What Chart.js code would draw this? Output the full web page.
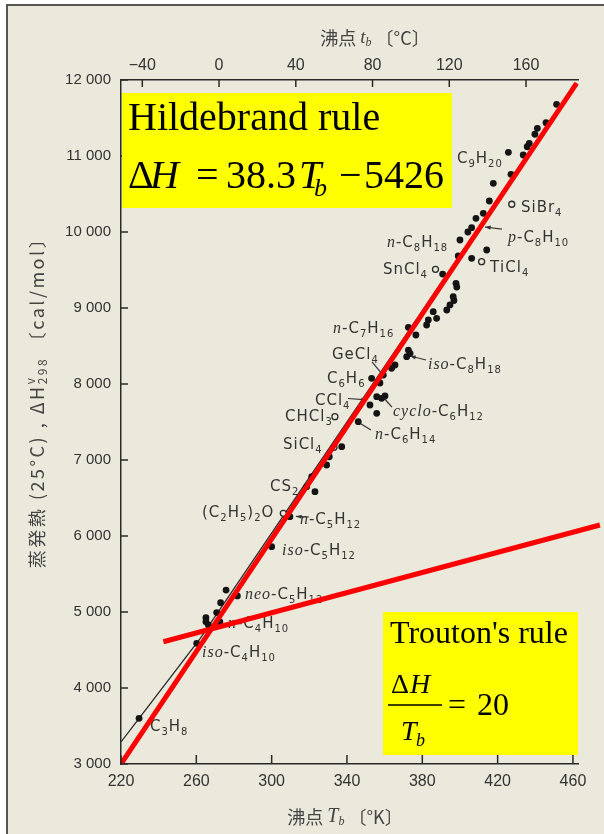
<!DOCTYPE html>
<html>
<head>
<meta charset="utf-8">
<script src="https://cdn.jsdelivr.net/npm/chart.js@4.4.0/dist/chart.umd.min.js"></script>
<style>
  html, body { margin: 0; padding: 0; background: #fff; }
  #wrap { position: relative; width: 604px; height: 834px; overflow: hidden; }
  #paper { position: absolute; left: 6px; top: 4px; right: 0; bottom: 0; background: #ebe8dc;
           border-top: 2px solid #555; border-left: 2px solid #555; }
  #chart { position: absolute; left: 0; top: 0; }
</style>
</head>
<body>
<div id="wrap">
  <div id="paper"></div>
  <canvas id="chart" width="604" height="834"></canvas>
</div>
<script>
// tick values
const K_TICKS = [220, 260, 300, 340, 380, 420, 460];
const C_TICKS = [-40, 0, 40, 80, 120, 160];
const H_TICKS = [3000, 4000, 5000, 6000, 7000, 8000, 9000, 10000, 11000, 12000];

// measured compounds (filled dots): boiling point [K], heat of vaporization [cal/mol]
const tbDots = [451.3, 445.7, 441.1, 439.8, 436.8, 435.7, 425.7, 433.6, 427.1, 417.7,
                415.6, 412.4, 408.5, 406.2, 404.2, 400.0, 414.2, 399.1, 406.2, 390.8,
                397.9, 398.3, 396.4, 396.8, 394.7, 393.0, 385.8, 387.6, 383.2, 382.3,
                372.6, 376.6, 372.6, 373.5, 371.7, 365.5, 363.7, 359.3, 353.1, 357.5,
                360.2, 355.8, 358.4, 352.2, 355.8, 346.0, 337.2, 330.6, 329.2, 321.3,
                318.6, 323.0, 309.7, 300.0, 275.8, 281.8, 272.9, 270.8, 265.1, 265.1,
                266.4, 260.2, 229.6, 272.5];
const dhDots = [11680, 11438, 11364, 11286, 11167, 11122, 11049, 11013, 10759, 10641,
                10408, 10246, 10180, 10057, 10000, 9895, 9763, 9684, 9654, 9447,
                9325, 9276, 9149, 9099, 9040, 8974, 8951, 8864, 8842, 8776,
                8746, 8645, 8447, 8404, 8359, 8250, 8207, 8118, 8075, 8013,
                7842, 7833, 7812, 7724, 7614, 7504, 7175, 7043, 6934, 6780,
                6649, 6583, 6254, 5859, 5289, 5211, 5122, 4993, 4925, 4872,
                4829, 4588, 3601, 4870];

// open circles: SiBr4, TiCl4, SnCl4, CHCl3, SiCl4, (C2H5)2O
const tbOpen = [427.5, 411.5, 387.0, 333.6, 333.1, 306.2];
const dhOpen = [10365, 9609, 9509, 7570, 7167, 6299];

// original black fitted curve
const curveTb = [220, 229.6, 262, 462];
const curveDh = [3290, 3600, 4650, 11960];

// red overlay lines as drawn
const hildTb = [220, 462];
const hildDh = [3000, 11960];
const troutTb = [242.5, 474.3];
const troutDh = [4609, 6145];

// compound labels: left edge / vertical centre in data units
const labelText = ["C9H20", "SiBr4", "n-C8H18", "p-C8H10", "SnCl4", "TiCl4", "n-C7H16", "GeCl4",
                   "iso-C8H18", "C6H6", "CCl4", "cyclo-C6H12", "CHCl3", "n-C6H14", "SiCl4", "CS2",
                   "(C2H5)2O", "n-C5H12", "iso-C5H12", "neo-C5H12", "n-C4H10", "iso-C4H10", "C3H8"];
const labelTb = [398.4, 432.4, 361.2, 425.5, 359.1, 415.9, 332.6, 332.0,
                 383.0, 329.4, 323.0, 364.4, 307.1, 354.9, 306.0, 299.1,
                 263.0, 315.0, 305.5, 285.8, 276.8, 263.0, 235.4];
const labelDh = [10974, 10342, 9875, 9947, 9520, 9540, 8750, 8395,
                 8270, 8086, 7790, 7651, 7592, 7355, 7217, 6671,
                 6322, 6230, 5816, 5243, 4862, 4480, 3513];

// leader lines [tb1, dh1, tb2, dh2, arrowhead]
const leaders = [
  [422.3, 10039, 413.3, 10066, true],
  [353.3, 8290, 358.6, 8132, false],
  [382.0, 8316, 373.5, 8368, true],
  [340.5, 7809, 350.6, 7790, true],
  [363.9, 7697, 359.1, 7829, false],
  [352.7, 7395, 345.8, 7500, false],
  [319.8, 6250, 312.9, 6257, true]
];

const INK = "#2a2a2a";
const TXT = "#333";
const SANS = '15px "DejaVu Sans"';
const SUB = '10px "DejaVu Sans"';
const ITAL = 'italic 16px "Liberation Serif"';
const SERIF = '"Liberation Serif"';
const CJK = '"Noto Sans CJK JP"';

function spaced(v) { return String(v).replace(/\B(?=(\d{3})+(?!\d))/g, " "); }

function drawPieces(ctx, pieces, x, y) {
  let cx = x;
  pieces.forEach((p) => {
    ctx.font = p.font;
    ctx.fillText(p.t, cx, y + (p.dy || 0));
    if (!p.stay) cx += ctx.measureText(p.t).width;
  });
  return cx - x;
}
function piecesWidth(ctx, pieces) {
  let w = 0;
  pieces.forEach((p) => { ctx.font = p.font; if (!p.stay) w += ctx.measureText(p.t).width; });
  return w;
}

function formulaPieces(name) {
  const out = [];
  let rest = name;
  const m = name.match(/^(n|iso|cyclo|neo|p)-(.*)$/);
  if (m) {
    out.push({ t: m[1], font: ITAL });
    out.push({ t: "-", font: SANS });
    rest = m[2];
  }
  for (const ch of rest) {
    if (/\d/.test(ch)) out.push({ t: ch, font: SUB, dy: 4 });
    else out.push({ t: ch, font: SANS });
  }
  return out;
}

const labelPlugin = {
  id: "labels",
  beforeDatasetsDraw(chart) {
    const { ctx, scales: { x, y } } = chart;
    ctx.save();
    ctx.fillStyle = TXT;
    ctx.textBaseline = "alphabetic";
    ctx.letterSpacing = "1px";
    labelText.forEach((t, i) => {
      drawPieces(ctx, formulaPieces(t), x.getPixelForValue(labelTb[i]), y.getPixelForValue(labelDh[i]) + 5.5);
    });
    ctx.letterSpacing = "0px";
    ctx.strokeStyle = TXT;
    ctx.lineWidth = 1.2;
    leaders.forEach(([t1, h1, t2, h2, arrow]) => {
      const x1 = x.getPixelForValue(t1), y1 = y.getPixelForValue(h1);
      const x2 = x.getPixelForValue(t2), y2 = y.getPixelForValue(h2);
      ctx.beginPath(); ctx.moveTo(x1, y1); ctx.lineTo(x2, y2); ctx.stroke();
      if (arrow) {
        const a = Math.atan2(y2 - y1, x2 - x1);
        ctx.beginPath();
        ctx.moveTo(x2, y2);
        ctx.lineTo(x2 - 6 * Math.cos(a - 0.35), y2 - 6 * Math.sin(a - 0.35));
        ctx.lineTo(x2 - 6 * Math.cos(a + 0.35), y2 - 6 * Math.sin(a + 0.35));
        ctx.closePath(); ctx.fill();
      }
    });
    ctx.restore();
  }
};

const decorPlugin = {
  id: "decor",
  afterDraw(chart) {
    const { ctx, scales: { x, xTop, y } } = chart;
    ctx.save();
    // inward tick marks
    ctx.strokeStyle = INK;
    ctx.lineWidth = 1.5;
    ctx.beginPath();
    K_TICKS.forEach((v) => { const p = x.getPixelForValue(v); ctx.moveTo(p, x.top); ctx.lineTo(p, x.top - 9); });
    C_TICKS.forEach((v) => { const p = xTop.getPixelForValue(v); ctx.moveTo(p, xTop.bottom); ctx.lineTo(p, xTop.bottom + 7); });
    H_TICKS.forEach((v) => { const p = y.getPixelForValue(v); ctx.moveTo(y.right, p); ctx.lineTo(y.right + 7, p); });
    ctx.stroke();

    // axis titles
    ctx.fillStyle = "#444";
    ctx.textBaseline = "middle";
    const topT = [
      { t: "沸点 ", font: "18px " + CJK },
      { t: "t", font: "italic 19px " + SERIF },
      { t: "b", font: "italic 12px " + SERIF, dy: 5 },
      { t: " 〔°C〕", font: "18px " + CJK }
    ];
    drawPieces(ctx, topT, 375 - piecesWidth(ctx, topT) / 2, 38);
    const botT = [
      { t: "沸点 ", font: "18px " + CJK },
      { t: "T", font: "italic 20px " + SERIF },
      { t: "b", font: "italic 12px " + SERIF, dy: 5 },
      { t: " 〔°K〕", font: "18px " + CJK }
    ];
    drawPieces(ctx, botT, 345 - piecesWidth(ctx, botT) / 2, 817);

    const yT = [
      { t: "蒸発熱 (25°C) , ", font: "18px " + CJK },
      { t: "ΔH", font: "18px " + CJK },
      { t: "v", font: "12px " + CJK, dy: -7, stay: true },
      { t: "298", font: "12px " + CJK, dy: 5 },
      { t: " 〔cal/mol〕", font: "18px " + CJK }
    ];
    ctx.save();
    ctx.translate(37, 398);
    ctx.rotate(-Math.PI / 2);
    ctx.letterSpacing = "2.5px";
    drawPieces(ctx, yT, -piecesWidth(ctx, yT) / 2, 0);
    ctx.restore();

    // yellow annotation boxes
    ctx.textBaseline = "alphabetic";
    ctx.fillStyle = "#ffff00";
    ctx.fillRect(122, 93, 330, 115);
    ctx.fillRect(383, 612, 195, 143);
    ctx.fillStyle = "#000";
    ctx.font = "40px " + SERIF;
    ctx.fillText("Hildebrand rule", 128, 130);
    const eq = [
      ["Δ", "40px", 128, 0], ["H", "italic 40px", 150, 0], ["=", "40px", 196, 0],
      ["38.3", "40px", 226, 0], ["T", "italic 40px", 299, 0], ["b", "italic 26px", 314, 8],
      ["−", "40px", 339, 0], ["5426", "40px", 364, 0]
    ];
    eq.forEach(([t, f, px, dy]) => { ctx.font = f + " " + SERIF; ctx.fillText(t, px, 188 + dy); });

    ctx.font = "32px " + SERIF;
    ctx.fillText("Trouton's rule", 390, 643);
    const fr = [
      ["Δ", "28px", 391, 693], ["H", "italic 28px", 410, 693],
      ["T", "italic 28px", 401, 740], ["b", "italic 18px", 416, 746],
      ["=", "32px", 448, 715], ["20", "32px", 477, 715]
    ];
    fr.forEach(([t, f, px, py]) => { ctx.font = f + " " + SERIF; ctx.fillText(t, px, py); });
    ctx.strokeStyle = "#000";
    ctx.lineWidth = 1.5;
    ctx.beginPath(); ctx.moveTo(388, 705); ctx.lineTo(442, 705); ctx.stroke();
    ctx.restore();
  }
};

const toXY = (xs, ys) => xs.map((v, i) => ({ x: v, y: ys[i] }));

const tickFont = { family: "Liberation Sans", size: 15 };

new Chart(document.getElementById("chart"), {
  type: "scatter",
  data: {
    datasets: [
      { data: toXY(hildTb, hildDh), showLine: true, borderColor: "#ff0000", borderWidth: 5,
        pointRadius: 0, order: 0 },
      { data: toXY(troutTb, troutDh), showLine: true, borderColor: "#ff0000", borderWidth: 5,
        pointRadius: 0, clip: false, order: 0 },
      { data: toXY(tbDots, dhDots), pointRadius: 3.4, pointBackgroundColor: "#141414",
        pointBorderWidth: 0, order: 1 },
      { data: toXY(tbOpen, dhOpen), pointRadius: 3, pointBackgroundColor: "#ebe8dc",
        pointBorderColor: INK, pointBorderWidth: 1.3, order: 1 },
      { data: toXY(curveTb, curveDh), showLine: true, borderColor: INK, borderWidth: 1.3,
        pointRadius: 0, order: 2 }
    ]
  },
  options: {
    responsive: false,
    animation: false,
    devicePixelRatio: 1,
    layout: { autoPadding: false, padding: { left: 0, top: 0, right: 25.4, bottom: 0 } },
    plugins: { legend: { display: false }, tooltip: { enabled: false } },
    scales: {
      x: {
        type: "linear", position: "bottom", min: 220, max: 463,
        afterBuildTicks: (s) => { s.ticks = K_TICKS.map((v) => ({ value: v })); },
        afterFit: (s) => { s.height = 70; },
        grid: { display: false, drawTicks: false },
        border: { color: INK, width: 1.5 },
        ticks: { color: TXT, font: { family: "Liberation Sans", size: 16 }, padding: 8,
                 maxRotation: 0, autoSkip: false }
      },
      xTop: {
        type: "linear", position: "top", min: -51.1, max: 187.4,
        afterBuildTicks: (s) => { s.ticks = C_TICKS.map((v) => ({ value: v })); },
        afterFit: (s) => { s.height = 80; },
        grid: { display: false, drawTicks: false },
        border: { color: INK, width: 1.5 },
        ticks: { color: TXT, font: { family: "Liberation Sans", size: 16 }, padding: 5,
                 maxRotation: 0, autoSkip: false,
                 callback: (v) => (v < 0 ? "−" + Math.abs(v) : String(v)) }
      },
      y: {
        type: "linear", min: 3000, max: 12000,
        afterBuildTicks: (s) => { s.ticks = H_TICKS.map((v) => ({ value: v })); },
        afterFit: (s) => { s.width = 121; },
        grid: { display: false, drawTicks: false },
        border: { color: INK, width: 1.5 },
        ticks: { color: TXT, font: tickFont, padding: 10, autoSkip: false, callback: (v) => spaced(v) }
      }
    }
  },
  plugins: [labelPlugin, decorPlugin]
});
</script>
</body>
</html>
